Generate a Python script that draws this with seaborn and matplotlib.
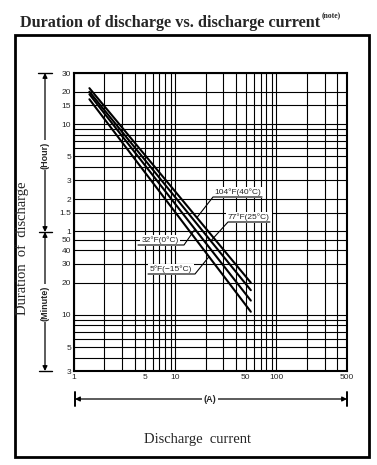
import numpy as np
import pandas as pd
import seaborn as sns
import matplotlib
matplotlib.use("Agg")
import matplotlib.pyplot as plt
from matplotlib.patches import Rectangle, FancyArrowPatch
from matplotlib.lines import Line2D
from matplotlib.ticker import FixedLocator, NullFormatter

# ---------------- data ----------------
currents_A = [1.42, 56]
dur_40C = [1300, 20]      # minutes
dur_25C = [1205, 17]
dur_0C = [1140, 13.6]
dur_m15C = [1025, 10.7]
series_names = ["104°F(40°C)", "77°F(25°C)", "32°F(0°C)", "5°F(−15°C)"]

y_tick_minutes = [1800, 1200, 900, 600, 300, 180, 120, 90, 60, 50, 40, 30, 20, 10, 5, 3]
y_tick_labels = ["30", "20", "15", "10", "5", "3", "2", "1.5", "1",
                 "50", "40", "30", "20", "10", "5", "3"]
y_grid_minutes = [1800, 1200, 900, 600, 540, 480, 420, 360, 300, 240, 180, 120, 90, 60,
                  50, 40, 30, 20, 10, 9, 8, 7, 6, 5, 4, 3]
x_tick_values = [1, 5, 10, 50, 100, 500]
x_tick_labels = ["1", "5", "10", "50", "100", "500"]
x_grid_values = [1, 2, 3, 4, 5, 6, 7, 8, 9, 10, 20, 30, 40, 50, 60, 70, 80, 90,
                 100, 200, 300, 400, 500]

rows = []
for name, vals in zip(series_names, [dur_40C, dur_25C, dur_0C, dur_m15C]):
    for c, v in zip(currents_A, vals):
        rows.append({"current": c, "minutes": v, "series": name})
df = pd.DataFrame(rows)

# ---------------- figure ----------------
W, H = 377, 465
sns.set_style("white")
plt.rcParams["font.family"] = ["Liberation Sans", "DejaVu Sans"]
fig = plt.figure(figsize=(W / 100, H / 100), dpi=100)

def P(x, y):
    return (x / W, 1 - y / H)

ax_l, ax_r, ax_t, ax_b = 74, 347, 73, 371
ax = fig.add_axes([ax_l / W, 1 - ax_b / H, (ax_r - ax_l) / W, (ax_b - ax_t) / H])

sns.lineplot(data=df, x="current", y="minutes", hue="series",
             palette=["black"] * 4, legend=False, linewidth=1.5, ax=ax,
             estimator=None, sort=True, zorder=3)
ax.set_xscale("log")
ax.set_yscale("log")
ax.set_xlim(1, 500)
ax.set_ylim(3, 1800)

ax.xaxis.set_major_locator(FixedLocator(x_tick_values))
ax.set_xticklabels(x_tick_labels)
ax.xaxis.set_minor_locator(FixedLocator(x_grid_values))
ax.xaxis.set_minor_formatter(NullFormatter())
ax.yaxis.set_major_locator(FixedLocator(y_tick_minutes))
ax.set_yticklabels(y_tick_labels)
ax.yaxis.set_minor_locator(FixedLocator(y_grid_minutes))
ax.yaxis.set_minor_formatter(NullFormatter())
ax.grid(False)
for v in x_grid_values:
    ax.axvline(v, color="black", lw=0.8, zorder=0)
for v in y_grid_minutes:
    ax.axhline(v, color="black", lw=0.8, zorder=0)
ax.tick_params(which="both", length=0, labelsize=6, pad=2)
ax.set_xlabel("")
ax.set_ylabel("")
for s in ax.spines.values():
    s.set_visible(True)
    s.set_color("black")
    s.set_linewidth(1.5)

# ---------------- outer frame & titles ----------------
fig.add_artist(Rectangle(P(15, 457), (369 - 15) / W, (457 - 35) / H,
                         transform=fig.transFigure, fill=False, lw=2, color="black"))
t = fig.text(*P(20, 27), "Duration of discharge vs. discharge current",
             family=["Liberation Serif"], weight="bold", fontsize=11.7,
             ha="left", va="baseline")
fig.canvas.draw()
bb = t.get_window_extent()
fig.text((bb.x1 + 1) / W, 1 - 18 / H, "(note)", family=["Liberation Serif"],
         weight="bold", fontsize=5.5, ha="left", va="baseline")

fig.text(*P(22, 248), "Duration  of  discharge", family=["Liberation Serif"],
         fontsize=10.5, rotation=90, ha="center", va="center")
fig.text(*P(197, 439), "Discharge  current", family=["Liberation Serif"],
         fontsize=10.5, ha="center", va="center")

# ---------------- left unit arrows ----------------
def arrow(p0, p1, style="<|-|>"):
    fig.add_artist(FancyArrowPatch(
        P(*p0), P(*p1), transform=fig.transFigure, arrowstyle=style,
        mutation_scale=7, lw=0.9, color="black", shrinkA=0, shrinkB=0))

def hline(x0, x1, y, lw=1.0):
    fig.add_artist(Line2D([x0 / W, x1 / W], [1 - y / H, 1 - y / H],
                          transform=fig.transFigure, color="black", lw=lw))

def vline(x, y0, y1, lw=1.0):
    fig.add_artist(Line2D([x / W, x / W], [1 - y0 / H, 1 - y1 / H],
                          transform=fig.transFigure, color="black", lw=lw))

arrow((45, 73), (45, 232))
arrow((45, 232), (45, 371))
hline(38, 52, 73)
hline(39, 52, 232)
hline(39, 52, 371)
fig.text(*P(45, 155), "(Hour)", rotation=90, ha="center", va="center",
         fontsize=6.5, weight="bold",
         bbox=dict(facecolor="white", edgecolor="none", pad=1))
fig.text(*P(45, 303), "(Minute)", rotation=90, ha="center", va="center",
         fontsize=6.5, weight="bold",
         bbox=dict(facecolor="white", edgecolor="none", pad=1))

# ---------------- bottom (A) arrow ----------------
arrow((75, 399), (347, 399))
vline(75, 392, 406, lw=1.4)
vline(347, 392, 406, lw=1.4)
fig.text(*P(210, 399), "(A)", ha="center", va="center", fontsize=6.5,
         weight="bold", bbox=dict(facecolor="white", edgecolor="none", pad=1))

# ---------------- temperature labels ----------------
fig.canvas.draw()

def line_point(vals, cur):
    lx = np.log10(currents_A)
    ly = np.log10(vals)
    yv = 10 ** np.interp(np.log10(cur), lx, ly)
    disp = ax.transData.transform((cur, yv))
    return disp[0], H - disp[1]

label_specs = [
    # series values, leader current, knee px, underline end px, text centre x
    (dur_40C, 16.4, (213, 197), 262, 238, series_names[0]),
    (dur_25C, 22.5, (228, 222), 270, 249, series_names[1]),
    (dur_0C, 15.7, (184, 245), 138, 160, series_names[2]),
    (dur_m15C, 21.6, (195, 274), 148, 171, series_names[3]),
]
for vals, cur, knee, uend, tx, name in label_specs:
    lp = line_point(vals, cur)
    xs = [lp[0], knee[0], uend]
    ys = [lp[1], knee[1], knee[1]]
    fig.text(*P(tx, knee[1] - 3), name, ha="center", va="baseline", fontsize=6,
             bbox=dict(facecolor="white", edgecolor="none", pad=1.2), zorder=4)
    fig.add_artist(Line2D([x / W for x in xs], [1 - y / H for y in ys],
                          transform=fig.transFigure, color="black", lw=0.8,
                          zorder=5))

fig.savefig("out.png", dpi=100, facecolor="white")
